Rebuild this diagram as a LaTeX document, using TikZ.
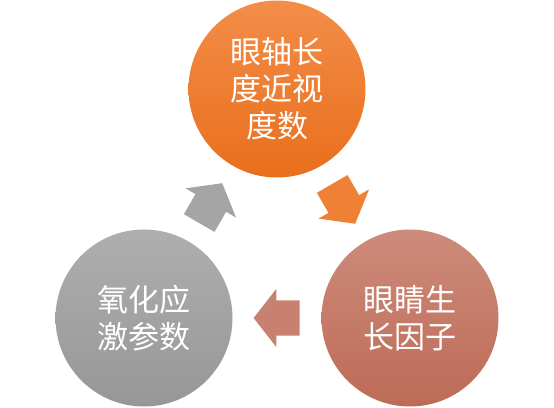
\documentclass[tikz,border=0pt]{standalone}
\usepackage{fontspec}
\newfontfamily\cjk{Noto Sans CJK SC}
\usetikzlibrary{calc, shapes.arrows}
\definecolor{axisTop}{RGB}{243,141,72}
\definecolor{axisBot}{RGB}{232,111,28}
\definecolor{growTop}{RGB}{205,139,123}
\definecolor{growBot}{RGB}{189,107,86}
\definecolor{oxTop}{RGB}{174,174,174}
\definecolor{oxBot}{RGB}{151,151,151}
\begin{document}
\begin{tikzpicture}[x=1pt, y=1pt,
  stage/.style={circle, minimum size=177pt, inner sep=0pt, text=white, align=center,
    font=\cjk\fontsize{31}{37}\selectfont},
  turn/.style={single arrow, minimum height=46pt, inner xsep=0pt, inner ysep=17.5pt,
    single arrow head extend=11.5pt, single arrow tip angle=104}]
\useasboundingbox (0,0) rectangle (554,407);
% the three stages
\node[stage, top color=axisTop, bottom color=axisBot] (axis) at (277,318) {眼轴长\\度近视\\度数};
\node[stage, top color=growTop, bottom color=growBot] (grow) at (410,89) {眼睛生\\长因子};
\node[stage, top color=oxTop, bottom color=oxBot] (ox) at (144,89) {氧化应\\激参数};
% arrows of the cycle
\node[turn, fill=axisTop!60!axisBot, rotate=-60] (ag) at ($(axis)!0.5!(grow)!6.5pt!(axis)$) {};
\node[turn, fill=growTop!70!growBot, rotate=180] (go) at ($(grow)!0.5!(ox)!6.5pt!(grow)$) {};
\node[turn, fill=oxTop!60!oxBot, rotate=60] (oa) at ($(ox)!0.5!(axis)!6.5pt!(ox)$) {};
\end{tikzpicture}
\end{document}
